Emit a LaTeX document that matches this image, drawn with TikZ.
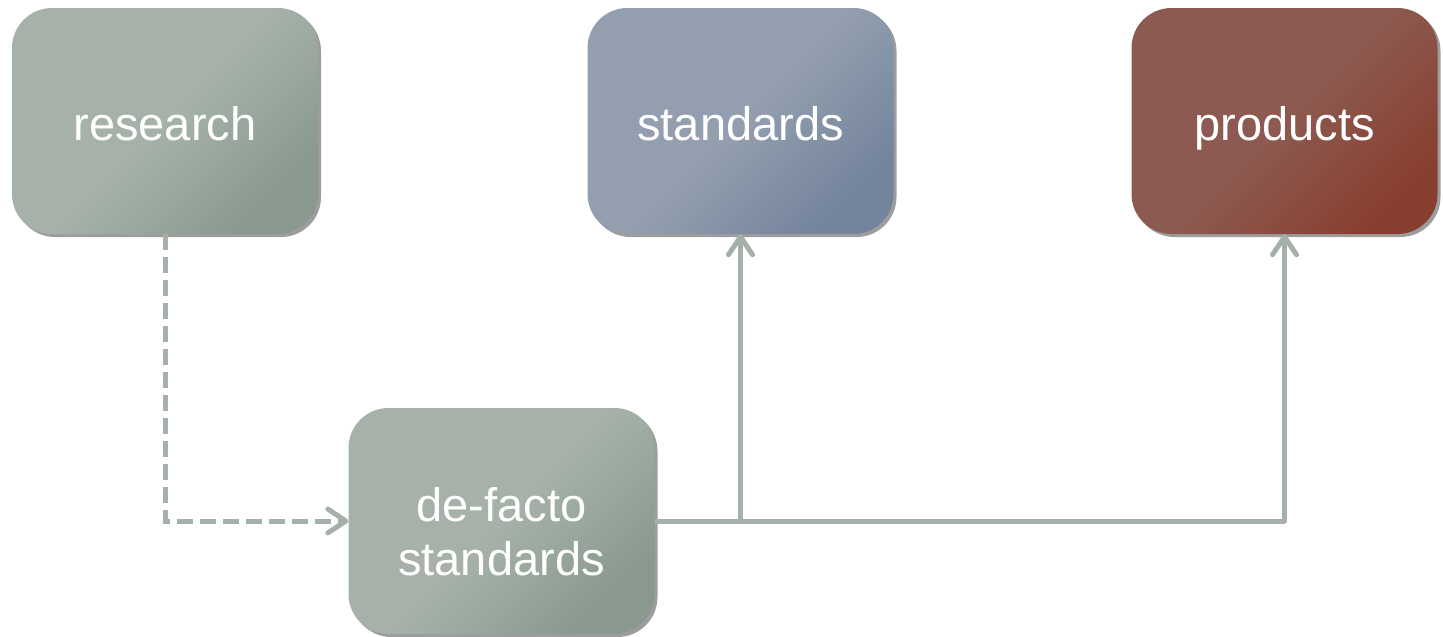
\documentclass[tikz,border=0pt]{standalone}
\usepackage{fontspec}
\setmainfont{Liberation Sans}
\usetikzlibrary{arrows.meta,shadows}
\definecolor{greenL}{HTML}{A6B2A9}
\definecolor{greenD}{HTML}{89998E}
\definecolor{blueL}{HTML}{939FAF}
\definecolor{blueD}{HTML}{74849C}
\definecolor{redL}{HTML}{8C5A50}
\definecolor{redD}{HTML}{893F30}
\definecolor{linec}{HTML}{A5B0A8}
\tikzset{
  box/.style={rectangle, rounded corners=40pt, minimum width=306pt, minimum height=226pt,
    text=white, align=center, font=\fontsize{47}{54}\selectfont, inner sep=0pt,
    drop shadow={shadow xshift=3pt, shadow yshift=-3pt, opacity=0.55, fill=black!70}},
  oneline/.style={text height=38pt, text depth=0pt},
  twoline/.style={text height=108pt, text depth=0pt},
  greenbox/.style={box, top color=greenL, bottom color=greenD, middle color=greenL, shading angle=45},
  bluebox/.style={box, top color=blueL, bottom color=blueD, middle color=blueL, shading angle=45},
  redbox/.style={box, top color=redL, bottom color=redD, middle color=redL, shading angle=45},
  conn/.style={draw=linec, line width=5pt, -{Straight Barb[length=18pt,width=24pt,line cap=round,line join=round]}},
  dconn/.style={conn, dash pattern=on 16pt off 7pt}
}
\begin{document}
\begin{tikzpicture}[x=1pt,y=-1pt]
\useasboundingbox (0,0) rectangle (1443,637);
\node[greenbox, oneline] (research) at (165,121) {research};
\node[bluebox, oneline] (standards) at (740.5,121) {standards};
\node[redbox, oneline] (products) at (1284.5,121) {products};
\node[greenbox, twoline] (defacto) at (501.5,521) {de-facto\\standards};
\coordinate (j) at (standards.south |- defacto.east);
\draw[dconn] (research.south) |- (defacto.west);
\draw[conn, line join=round] (defacto.east) -| (products.south);
\draw[conn] (j) -- (standards.south);
\end{tikzpicture}
\end{document}
